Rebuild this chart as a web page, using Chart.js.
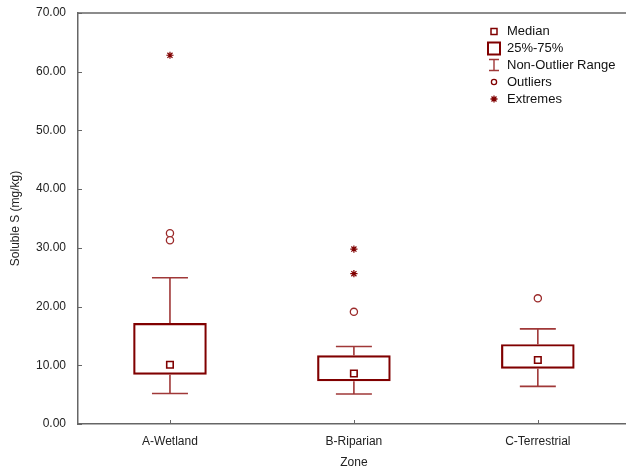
<!DOCTYPE html>
<html>
<head>
<meta charset="utf-8">
<script src="https://cdn.jsdelivr.net/npm/chart.js@4"></script>
<style>
html,body{margin:0;padding:0;overflow:hidden;background:#fff}
canvas{display:block}
</style>
</head>
<body>
<canvas id="chart" width="636" height="474"></canvas>
<script>
// zone summaries
let zones=["A-Wetland","B-Riparian","C-Terrestrial"];
let medians=[10.1,8.6,10.9];
let q1=[8.4,7.3,9.4];
let q3=[17.2,11.7,13.6];
let whiskLo=[5.2,5.1,6.4];
let whiskHi=[24.9,13.2,16.2];
let outliers=[[32.5,31.3],[19.1],[21.4]];
let extremes=[[62.8],[29.8,25.6],[]];
let yTicks=[0,10,20,30,40,50,60,70];

const red="#800000";
const font="'Liberation Sans', Arial, sans-serif";

function pts(groups){
 let out=[];
 groups.forEach((g,i)=>g.forEach(v=>out.push({x:zones[i],y:v})));
 return out;
}

// whiskers, top frame line, inward ticks, legend
const extras={
 id:"extras",
 beforeDatasetsDraw(c){
  let ctx=c.ctx,x=c.scales.x,y=c.scales.y;
  ctx.save();
  ctx.strokeStyle="#a03838";ctx.lineWidth=1.6;
  zones.forEach((z,i)=>{
   let px=x.getPixelForValue(i);
   let hw=18;
   ctx.beginPath();
   ctx.moveTo(px,y.getPixelForValue(q3[i]));ctx.lineTo(px,y.getPixelForValue(whiskHi[i]));
   ctx.moveTo(px-hw,y.getPixelForValue(whiskHi[i]));ctx.lineTo(px+hw,y.getPixelForValue(whiskHi[i]));
   ctx.moveTo(px,y.getPixelForValue(q1[i]));ctx.lineTo(px,y.getPixelForValue(whiskLo[i]));
   ctx.moveTo(px-hw,y.getPixelForValue(whiskLo[i]));ctx.lineTo(px+hw,y.getPixelForValue(whiskLo[i]));
   ctx.stroke();
  });
  ctx.restore();
 },
 afterDraw(c){
  let ctx=c.ctx,a=c.chartArea,x=c.scales.x,y=c.scales.y;
  ctx.save();
  ctx.strokeStyle="#666";ctx.lineWidth=1.5;
  ctx.beginPath();ctx.moveTo(a.left,a.top);ctx.lineTo(a.right,a.top);ctx.stroke();
  ctx.lineWidth=1;
  ctx.beginPath();
  zones.forEach((z,i)=>{let px=Math.round(x.getPixelForValue(i))+.5;ctx.moveTo(px,a.bottom);ctx.lineTo(px,a.bottom-4);});
  yTicks.forEach(v=>{let py=Math.round(y.getPixelForValue(v))+.5;ctx.moveTo(a.left,py);ctx.lineTo(a.left+4,py);});
  ctx.stroke();

  // legend
  let ix=494,tx=507,ys=[31.5,48.5,65,82,99];
  ctx.strokeStyle=red;ctx.fillStyle="#fff";
  ctx.lineWidth=1.5;
  ctx.strokeRect(ix-3,ys[0]-3,6,6);
  ctx.lineWidth=2;
  ctx.strokeRect(ix-6,ys[1]-6,12,12);
  ctx.strokeStyle="#a03838";ctx.lineWidth=1.4;
  ctx.beginPath();
  ctx.moveTo(ix,ys[2]-5.5);ctx.lineTo(ix,ys[2]+5.5);
  ctx.moveTo(ix-5,ys[2]-5.5);ctx.lineTo(ix+5,ys[2]-5.5);
  ctx.moveTo(ix-5,ys[2]+5.5);ctx.lineTo(ix+5,ys[2]+5.5);
  ctx.stroke();
  ctx.strokeStyle=red;ctx.lineWidth=1.3;
  ctx.beginPath();ctx.arc(ix,ys[3],2.6,0,Math.PI*2);ctx.stroke();
  ctx.beginPath();
  ctx.moveTo(ix-3.5,ys[4]);ctx.lineTo(ix+3.5,ys[4]);
  ctx.moveTo(ix,ys[4]-3.5);ctx.lineTo(ix,ys[4]+3.5);
  ctx.moveTo(ix-2.5,ys[4]-2.5);ctx.lineTo(ix+2.5,ys[4]+2.5);
  ctx.moveTo(ix-2.5,ys[4]+2.5);ctx.lineTo(ix+2.5,ys[4]-2.5);
  ctx.stroke();
  ctx.fillStyle="#111";ctx.font="13px "+font;ctx.textBaseline="middle";ctx.textAlign="left";
  ["Median","25%-75%","Non-Outlier Range","Outliers","Extremes"].forEach((t,i)=>ctx.fillText(t,tx,ys[i]));
  ctx.restore();
 }
};

new Chart(document.getElementById("chart"),{
 type:"bar",
 data:{
  labels:zones,
  datasets:[
   {data:zones.map((z,i)=>[q1[i],q3[i]]),backgroundColor:"rgba(255,255,255,0)",borderColor:red,borderWidth:2.2,borderSkipped:false,barPercentage:0.4,categoryPercentage:1,order:3},
   {type:"line",data:zones.map((z,i)=>({x:z,y:medians[i]})),showLine:false,pointStyle:"rect",pointRadius:4.6,pointBackgroundColor:"#fff",pointBorderColor:red,pointBorderWidth:1.6,order:1},
   {type:"line",data:pts(outliers),showLine:false,pointStyle:"circle",pointRadius:3.6,pointBackgroundColor:"#fff",pointBorderColor:"#9b2a2a",pointBorderWidth:1.3,order:1},
   {type:"line",data:pts(extremes),showLine:false,pointStyle:"star",pointRadius:3.6,pointBorderColor:red,pointBorderWidth:1.2,order:1}
  ]
 },
 options:{
  responsive:false,animation:false,
  layout:{padding:{top:13,right:6,left:0,bottom:0}},
  plugins:{legend:{display:false},tooltip:{enabled:false}},
  scales:{
   x:{
    grid:{display:false,drawTicks:false},
    border:{display:true,color:"#666",width:1.5},
    ticks:{padding:10,color:"#222",font:{size:12,family:font}},
    title:{display:true,text:"Zone",color:"#222",font:{size:12,family:font},padding:{top:4,bottom:4}},
    afterFit:s=>{s.height=50;s.paddingLeft=0;s.paddingRight=0}
   },
   y:{
    min:0,max:70,
    grid:{display:false,drawTicks:false},
    border:{display:true,color:"#666",width:1.5},
    afterBuildTicks:s=>{s.ticks=yTicks.map(v=>({value:v}))},
    ticks:{padding:12,color:"#222",font:{size:12,family:font},callback:v=>v.toFixed(2)},
    title:{display:true,text:"Soluble S (mg/kg)",color:"#222",font:{size:12,family:font},padding:{top:8,bottom:4}},
    afterFit:s=>{s.width=78;s.paddingTop=0;s.paddingBottom=0}
   }
  }
 },
 plugins:[extras]
});
</script>
</body>
</html>
